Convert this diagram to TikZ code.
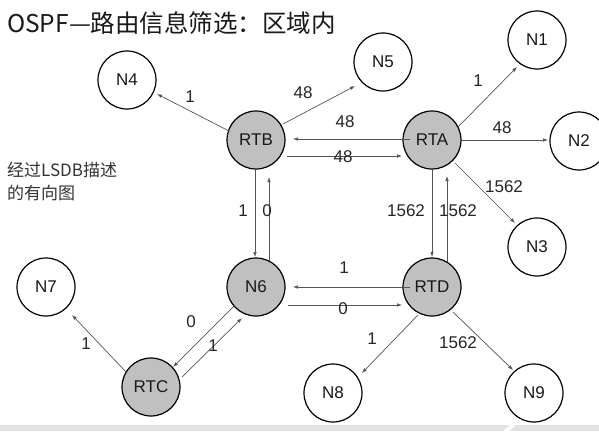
\documentclass[tikz,border=0pt]{standalone}
\usepackage{fontspec}
\setmainfont{Liberation Sans}
\newfontfamily\cjk{Noto Sans CJK SC}
\usetikzlibrary{arrows.meta}
\definecolor{rtgray}{RGB}{192,192,192}
\definecolor{linegray}{RGB}{85,85,85}
\definecolor{stripgray}{RGB}{226,226,226}
\tikzset{
  net/.style={circle, draw=black, line width=1.2pt, minimum size=58pt, inner sep=0pt,
    font=\fontsize{17}{17}\selectfont, fill=white, text=black!90},
  rtr/.style={net, fill=rtgray},
  edge/.style={draw=linegray, line width=0.7pt, -{Latex[length=5pt,width=3.6pt]}},
  lbl/.style={font=\fontsize{17}{17}\selectfont, inner sep=0pt, text=black!85}
}
\begin{document}
\begin{tikzpicture}[x=1pt,y=-1pt]
\useasboundingbox (0,0) rectangle (599,431);
\fill[white] (0,0) rectangle (599,431);
% bottom strip
\fill[stripgray] (0,425) rectangle (599,431);
\fill[white] (503,431) -- (509,431) -- (516,425) -- (510,425) -- cycle;

% title
\node[anchor=base west, inner sep=0pt, font=\cjk\fontsize{24.5}{24.5}\selectfont, text=black!90] (title) at (7,32) {OSPF—路由信息筛选：区域内};
% side text
\node[anchor=base west, inner sep=0pt, font=\cjk\fontsize{17}{17}\selectfont, text=black!80] (side1) at (7,176) {经过LSDB描述};
\node[anchor=base west, inner sep=0pt, font=\cjk\fontsize{17}{17}\selectfont, text=black!80] (side2) at (7,199) {的有向图};

% nodes
\node[rtr] (RTB) at (256,140) {RTB};
\node[rtr] (RTA) at (432,140) {RTA};
\node[rtr] (N6)  at (256,287) {N6};
\node[rtr] (RTD) at (432,287) {RTD};
\node[rtr] (RTC) at (151,387) {RTC};
\node[net] (N4) at (127,80) {N4};
\node[net] (N5) at (383,62) {N5};
\node[net] (N1) at (537,40) {N1};
\node[net] (N2) at (579,141) {N2};
\node[net] (N3) at (537,247) {N3};
\node[net] (N7) at (46,287) {N7};
\node[net] (N8) at (333,393) {N8};
\node[net] (N9) at (534,393) {N9};

% edges
\draw[edge] ([shift={(-27,-9)}]RTB.center) -- ([shift={(30,14)}]N4.center);
\draw[edge] ([shift={(27,-16)}]RTB.center) -- ([shift={(-28,24)}]N5.center);
\draw[edge] ([shift={(-22,-1)}]RTA.center) -- ([shift={(37,-1)}]RTB.center);
\draw[edge] ([shift={(31,16)}]RTB.center) -- ([shift={(-30,16)}]RTA.center);
\draw[edge] ([shift={(-1,29)}]RTB.center) -- ([shift={(-1,-30)}]N6.center);
\draw[edge] ([shift={(13,-26)}]N6.center) -- ([shift={(13,37)}]RTB.center);
\draw[edge] ([shift={(0,30)}]RTA.center) -- ([shift={(0,-30)}]RTD.center);
\draw[edge] ([shift={(15,-25)}]RTD.center) -- ([shift={(15,36)}]RTA.center);
\draw[edge] ([shift={(26,-13)}]RTA.center) -- ([shift={(-20,27)}]N1.center);
\draw[edge] ([shift={(30,0)}]RTA.center) -- ([shift={(-31,-1)}]N2.center);
\draw[edge] ([shift={(23,23)}]RTA.center) -- ([shift={(-22,-24)}]N3.center);
\draw[edge] ([shift={(-22,0)}]RTD.center) -- ([shift={(37,0)}]N6.center);
\draw[edge] ([shift={(32,18)}]N6.center) -- ([shift={(-30,18)}]RTD.center);
\draw[edge] ([shift={(-14,28)}]RTD.center) -- ([shift={(29,-20)}]N8.center);
\draw[edge] ([shift={(21,25)}]RTD.center) -- ([shift={(-21,-23)}]N9.center);
\draw[edge] ([shift={(-24,-14)}]RTC.center) -- ([shift={(26,28)}]N7.center);
\draw[edge] ([shift={(-21,18)}]N6.center) -- ([shift={(22,-20)}]RTC.center);
\draw[edge] ([shift={(31,-10)}]RTC.center) -- ([shift={(-14,31)}]N6.center);

% labels
\node[lbl] (l1) at (190,97) {1};
\node[lbl] (l2) at (303,93) {48};
\node[lbl] (l3) at (345,122) {48};
\node[lbl] (l4) at (343,157) {48};
\node[lbl] (l5) at (243,211) {1};
\node[lbl] (l6) at (267,211) {0};
\node[lbl] (l7) at (406,211) {1562};
\node[lbl] (l8) at (458,211) {1562};
\node[lbl] (l9) at (478,81) {1};
\node[lbl] (l10) at (502,128) {48};
\node[lbl] (l11) at (504,187) {1562};
\node[lbl] (l12) at (344,268) {1};
\node[lbl] (l13) at (343,309) {0};
\node[lbl] (l14) at (372,339) {1};
\node[lbl] (l15) at (458,343) {1562};
\node[lbl] (l16) at (86,344) {1};
\node[lbl] (l17) at (191,322) {0};
\node[lbl] (l18) at (213,346) {1};
\end{tikzpicture}
\end{document}
